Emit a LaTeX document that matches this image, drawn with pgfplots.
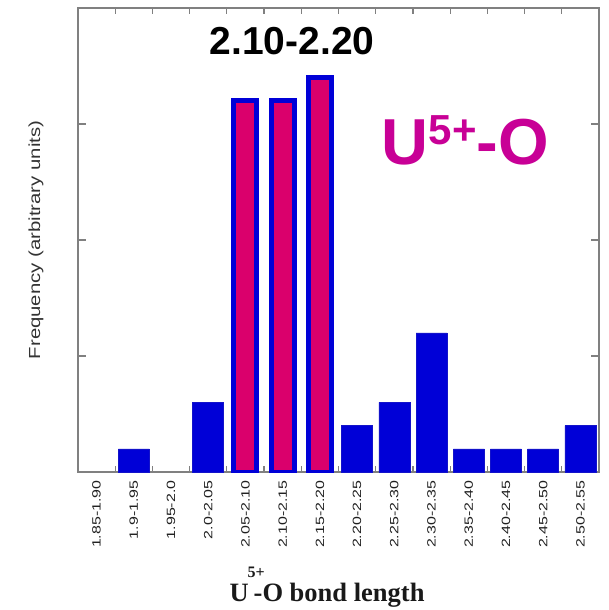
\documentclass[border=0pt]{standalone}
\usepackage{pgfplots}
\pgfplotsset{compat=1.18}
\usepackage{fontspec}
\setmainfont{Liberation Sans}
\newfontfamily\serifb{Liberation Serif}
\definecolor{barblue}{RGB}{0,0,215}
\definecolor{barpink}{RGB}{218,0,108}
\definecolor{magtext}{RGB}{200,0,150}
\definecolor{axgray}{RGB}{128,128,128}
\newcommand\xl[1]{\scalebox{1.33}[1]{#1}}
\begin{document}
\begin{tikzpicture}
\begin{axis}[name=ax, scale only axis, width=521pt, height=464pt,
  xmin=-0.5, xmax=13.5, ymin=0, ymax=20,
  axis line style={axgray, line width=1.3pt},
  xtick={0,...,13},
  xticklabels={\xl{1.85-1.90},\xl{1.9-1.95},\xl{1.95-2.0},\xl{2.0-2.05},\xl{2.05-2.10},\xl{2.10-2.15},\xl{2.15-2.20},\xl{2.20-2.25},\xl{2.25-2.30},\xl{2.30-2.35},\xl{2.35-2.40},\xl{2.40-2.45},\xl{2.45-2.50},\xl{2.50-2.55}},
  minor xtick={0.5,1.5,...,12.5},
  major x tick style={draw=none},
  minor x tick style={axgray, line width=1.2pt},
  minor tick length=6pt,
  ytick={5,10,15}, yticklabels={},
  ytick style={axgray, line width=1.2pt},
  major tick length=8pt,
  tick align=inside, tick pos=both,
  xticklabel shift=5pt,
  xticklabel style={rotate=90, anchor=east, font=\fontsize{12}{14}\selectfont, text=black!88},
  ylabel={\scalebox{1.27}[1]{Frequency (arbitrary units)}},
  ylabel style={at={(axis description cs:-0.0806,0.5)}, anchor=center, font=\fontsize{16}{18}\selectfont, text=black!80},
  xlabel={{\serifb\bfseries\fontsize{26.5}{28}\selectfont U\rlap{\hspace{-1pt}\raisebox{24pt}{\fontsize{16}{16}\selectfont 5+}}\hspace{5pt}-O bond length}},
  xlabel style={at={(axis description cs:0.478,-0.28)}, anchor=base, text=black!90},
]
\addplot[ybar, bar width=31pt, bar shift=0pt, fill=barblue, draw=barblue!85!gray, line width=0.6pt]
  coordinates {(1,1) (3,3) (7,2) (8,3) (9,6) (10,1) (11,1) (12,1) (13,2)};
\addplot[ybar, bar width=23pt, bar shift=0pt, fill=barpink, draw=barblue, line width=5pt]
  coordinates {(4,16) (5,16) (6,17)};
\node[anchor=base, font=\bfseries\fontsize{39}{40}\selectfont] at (rel axis cs:0.411,0.899) {2.10-2.20};
\node[anchor=base west, inner sep=0pt, text=magtext, font=\bfseries\fontsize{65}{66}\selectfont] at (rel axis cs:0.583,0.662) {U\raisebox{20pt}{\fontsize{42}{42}\selectfont 5+}-O};
\end{axis}
\pgfresetboundingbox
\path[use as bounding box] ([xshift=-78pt,yshift=-138pt]ax.south west) rectangle ([xshift=9pt,yshift=8pt]ax.north east);
\end{tikzpicture}
\end{document}
